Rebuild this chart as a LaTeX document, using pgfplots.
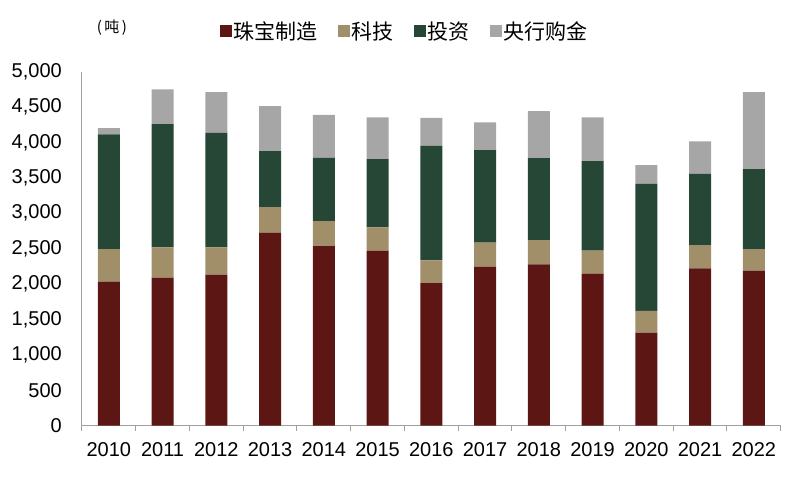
\documentclass[border=0pt]{standalone}
\usepackage{fontspec}
\setmainfont{Liberation Sans}
\newfontfamily\cjk{Noto Sans CJK SC}
\usepackage{pgfplots}
\usepackage{pgfplotstable}
\pgfplotsset{compat=1.18}
\definecolor{cJew}{HTML}{5C1613}
\definecolor{cTech}{HTML}{A08F68}
\definecolor{cInv}{HTML}{264736}
\definecolor{cCB}{HTML}{A6A6A6}
\definecolor{axgray}{HTML}{A0A0A0}
\pgfplotstableread{
x jew tech inv cb
0 2033 462 1620 88
1 2090 429 1741 490
2 2132 387 1618 575
3 2725 363 791 635
4 2537 353 894 607
5 2471 330 965 588
6 2015 320 1619 395
7 2245 339 1309 391
8 2279 343 1158 664
9 2146 325 1267 616
10 1313 307 1797 264
11 2222 330 1006 458
12 2189 306 1130 1087
}\gold
\begin{document}
\begin{tikzpicture}
\path[use as bounding box] (-82pt,-76.3pt) rectangle (721pt,425.7pt);
\node[font=\fontsize{15}{17}\selectfont\cjk] at (30pt,397.7pt) {(\,吨\,)};
\begin{axis}[
  scale only axis, width=698.7pt, height=354pt,
  ybar stacked, bar width=22pt,
  xmin=-0.5, xmax=12.5, ymin=0, ymax=5000,
  axis x line=bottom, axis y line=left,
  axis line style={-, draw=axgray, line width=1pt},
  xtick={0,...,12},
  xticklabels={2010,2011,2012,2013,2014,2015,2016,2017,2018,2019,2020,2021,2022},
  minor xtick={-0.5,0.5,...,12.5},
  ytick={0,500,...,5000},
  major tick length=0pt, minor tick length=5pt,
  tick align=outside,
  minor tick style={draw=axgray, line width=1pt},
  major tick style={draw=none},
  /pgf/number format/1000 sep={,},
  /pgf/number format/assume math mode=true,
  yticklabel style={font=\fontsize{20}{24}\selectfont, inner sep=0pt, anchor=east, xshift=-20pt},
  xticklabel style={font=\fontsize{20}{24}\selectfont, inner sep=0pt, anchor=north, yshift=-17pt},
  legend columns=4,
  legend style={at={(0.4616,1.115)}, anchor=center, draw=none, fill=none,
    font=\fontsize{21}{24}\selectfont\cjk,
    /tikz/every even column/.append style={column sep=18pt}},
  legend image code/.code={\fill[#1,draw=none] (0pt,-6pt) rectangle (12pt,6pt);},
]
\addplot[fill=cJew, draw=none] table[x=x,y=jew] {\gold};
\addplot[fill=cTech, draw=none] table[x=x,y=tech] {\gold};
\addplot[fill=cInv, draw=none] table[x=x,y=inv] {\gold};
\addplot[fill=cCB, draw=none] table[x=x,y=cb] {\gold};
\legend{珠宝制造,科技,投资,央行购金}
\end{axis}
\end{tikzpicture}
\end{document}
